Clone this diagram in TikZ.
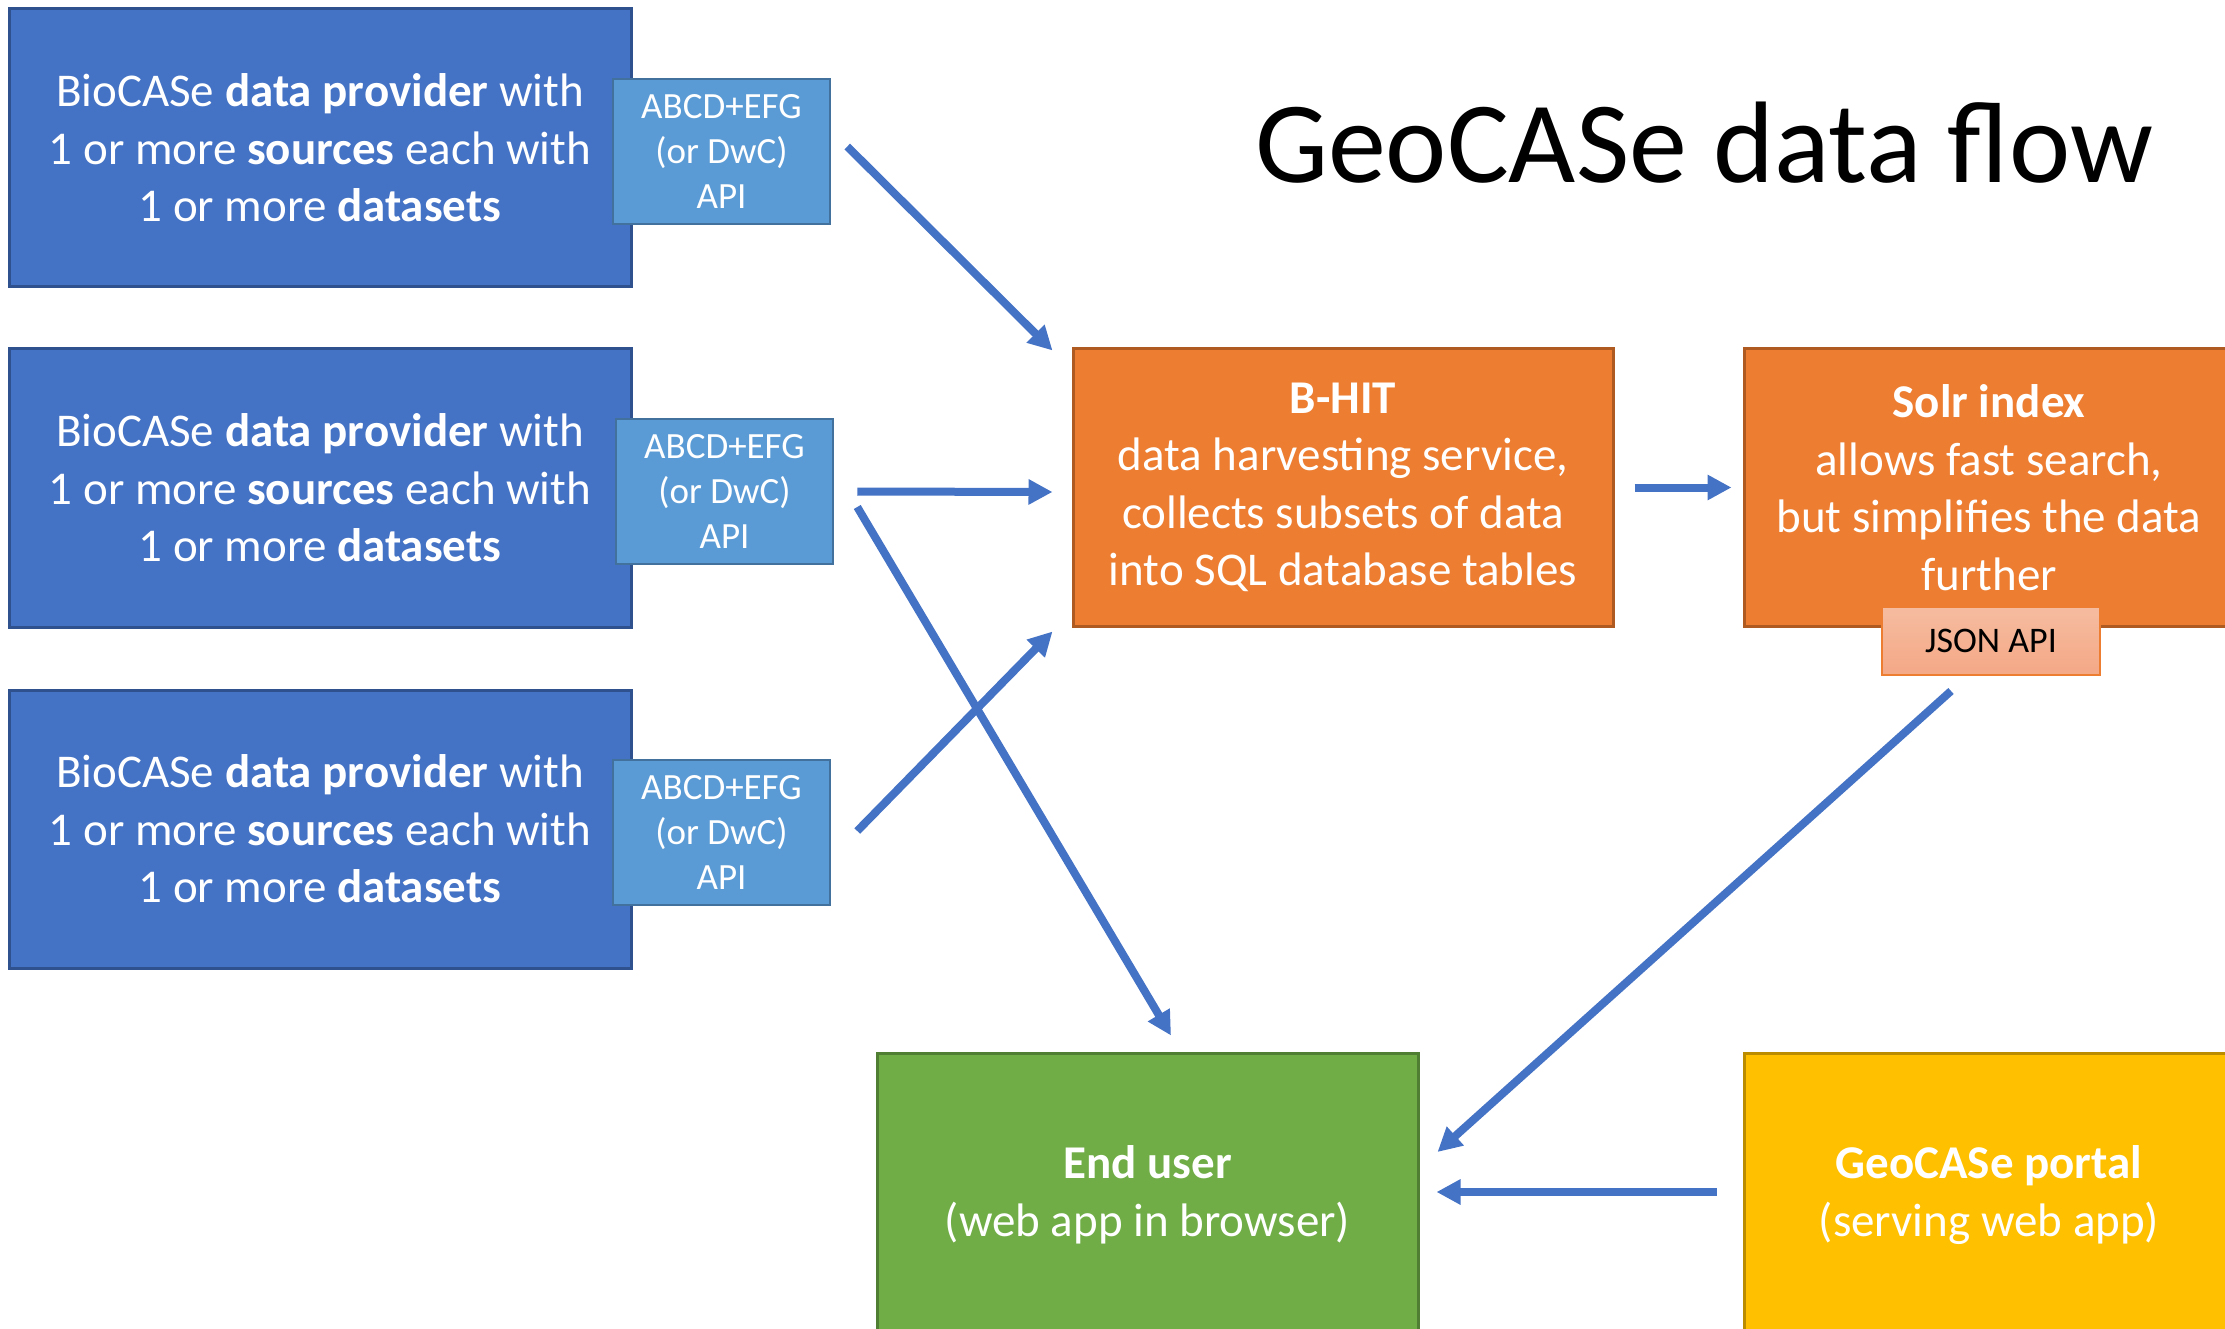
\documentclass[tikz,border=0pt]{standalone}
\usepackage{fontspec}
\setmainfont{Carlito}
\usepackage{tikz}
\usetikzlibrary{arrows.meta, positioning}
\usepackage{xcolor}

\begin{document}
\begin{tikzpicture}[x=1pt, y=-1pt,
    provbox/.style={draw=provedge, line width=3pt, fill=provfill, text=white, align=center,
        minimum width=622pt, minimum height=278pt, inner sep=0pt,
        font=\fontsize{47}{57.5}\selectfont},
    apibox/.style={draw=apiedge, line width=2.5pt, fill=apifill, text=white, align=center,
        minimum width=217pt, minimum height=145pt, inner sep=0pt,
        font=\fontsize{37}{45}\selectfont},
    orangebox/.style={draw=orangeedge, line width=3pt, fill=orangefill, text=white, align=center,
        minimum height=277pt, inner sep=0pt, font=\fontsize{47}{57.5}\selectfont},
    flow/.style={draw=arrowblue, line width=8pt, -{Triangle[length=24pt,width=24pt]}}
]

% --- COLOURS ---
\definecolor{provfill}{HTML}{4472C4}    % BioCASe providers
\definecolor{provedge}{HTML}{2F528F}
\definecolor{apifill}{HTML}{5B9BD5}     % ABCD / DwC API
\definecolor{apiedge}{HTML}{41719C}
\definecolor{orangefill}{HTML}{ED7D31}  % B-HIT and Solr
\definecolor{orangeedge}{HTML}{AE5A21}
\definecolor{json1}{HTML}{F6BCA0}       % JSON API gradient
\definecolor{json2}{HTML}{F4A886}
\definecolor{greenfill}{HTML}{70AD47}   % End user
\definecolor{greenedge}{HTML}{507E32}
\definecolor{goldfill}{HTML}{FFC000}    % Portal
\definecolor{goldedge}{HTML}{BC8C00}
\definecolor{arrowblue}{HTML}{4472C4}

\clip (0,0) rectangle (2225,1329);
\useasboundingbox (0,0) rectangle (2225,1329);

% --- TITLE ---
\node[anchor=base, font=\fontsize{116}{130}\selectfont] (title) at (1704,183) {GeoCASe data flow};

% --- DATA PROVIDERS (Left) ---
\foreach \i/\y/\ax in {1/148/721.5, 2/488/724.5, 3/829/721.5} {
    \node[provbox] (prov\i) at (320,\y)
        {BioCASe \textbf{data provider} with\\1 or more \textbf{sources} each with\\1 or more \textbf{datasets}};
    \node[apibox] (api\i) at (\ax,\y+3.5) {ABCD+EFG\\(or DwC)\\API};
}

% --- HARVESTING AND INDEX (Middle) ---
\node[orangebox, minimum width=540pt] (bhit) at (1343,487.5)
    {\textbf{B-HIT}\\data harvesting service,\\collects subsets of data\\into SQL database tables};
\node[orangebox, minimum width=490pt] (solr) at (1989,487.5)
    {\textbf{Solr index}\\allows fast search,\\but simplifies the data\\further};
\node[draw=orangefill, line width=2pt, top color=json1, bottom color=json2, minimum width=218pt,
    minimum height=68pt, inner sep=0pt, font=\fontsize{36}{40}\selectfont] (json) at (1991,641)
    {JSON API};

% --- USER AND PORTAL (Bottom) ---
\node[draw=greenedge, line width=3pt, fill=greenfill, text=white, align=center, minimum width=541pt,
    minimum height=284pt, inner sep=0pt, font=\fontsize{47}{57.5}\selectfont] (user) at (1147.5,1195)
    {\textbf{End user}\\(web app in browser)};
\node[draw=goldedge, line width=3pt, fill=goldfill, text=white, align=center, minimum width=490pt,
    minimum height=284pt, inner sep=0pt, font=\fontsize{47}{57.5}\selectfont] (portal) at (1989,1195)
    {\textbf{GeoCASe portal}\\(serving web app)};

% --- ARROWS ---
\draw[flow] ([xshift=16pt,yshift=5pt]api1.east) -- ([xshift=-19pt,yshift=-3pt]bhit.north west);
\draw[flow] ([xshift=23pt]api2.east) -- ([xshift=-19pt,yshift=-4.5pt]bhit.west);
\draw[flow] ([xshift=26pt,yshift=1.5pt]api3.east) -- ([xshift=-19pt,yshift=-4pt]bhit.south west);
\draw[flow] ([xshift=23pt,yshift=-15.5pt]api2.east) -- ([xshift=23.5pt,yshift=16pt]user.north);
\draw[flow] ([xshift=20pt]bhit.east) -- ([xshift=-11pt]solr.west);
\draw[flow] ([xshift=-40pt,yshift=-15pt]json.south) -- ([xshift=18pt,yshift=43pt]user.east);
\draw[flow] ([xshift=-26pt,yshift=3pt]portal.west) -- ([xshift=17pt,yshift=3pt]user.east);

\end{tikzpicture}
\end{document}
